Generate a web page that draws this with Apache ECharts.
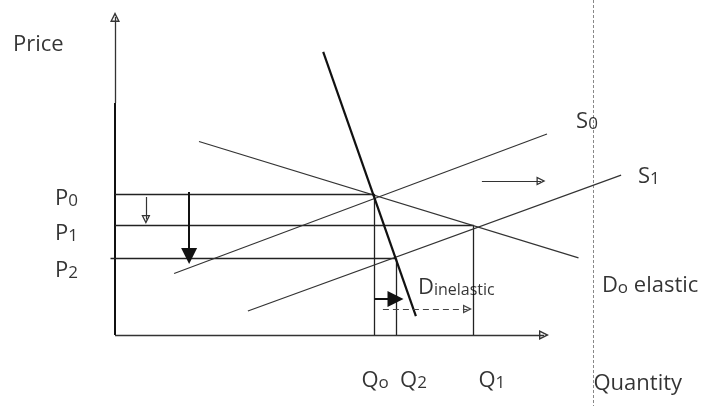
<!DOCTYPE html>
<html>
<head>
<meta charset="utf-8">
<script src="https://cdn.jsdelivr.net/npm/echarts@6/dist/echarts.min.js"></script>
<style>
  html, body { margin: 0; padding: 0; background: #fff; }
  #chart { width: 704px; height: 406px; }
</style>
</head>
<body>
<div id="chart"></div>
<script>
// values in diagram units (quantity across, price up)
var priceNames = ['P0', 'P1', 'P2'];
var priceLevels = [4.7, 3.67, 2.55];
var qtyNames = ['Qo', 'Q2', 'Q1'];
var qtyLevels = [8.65, 9.37, 11.95];

// curve end points [quantity, price]
var demandElastic = [[2.8, 6.45], [15.45, 2.57]];
var demandInelastic = [[6.94, 9.44], [10.03, 0.63]];
var supply0 = [[1.97, 2.05], [14.4, 6.7]];
var supply1 = [[4.43, 0.8], [16.87, 5.33]];

// shift arrows [from, to]
var priceDrop = [[2.47, 4.77], [2.47, 2.63]];
var smallDrop = [[1.03, 4.6], [1.03, 3.85]];
var qtyShift = [[8.65, 1.2], [9.35, 1.2]];
var qtyShiftDashed = [[8.93, 0.87], [11.75, 0.87]];
var supplyShift = [[12.23, 5.13], [14.2, 5.13]];

// axes ends and the dotted divider
var xAxisEnd = 14.3;
var yAxisEnd = 10.6;
var yAxisSolidTop = 7.73;
var dividerX = 15.93;

// layout: 30px per unit, axes corner at (115, 335)
var PX = 30, OX = 115, OY = 335, W = 704, H = 406;
var FONT = 'Open Sans';

var chart = echarts.init(document.getElementById('chart'));

function seg(a, b) {
  return { coords: [a, b] };
}
function rich(main, sub, rest) {
  return '{b|' + main + '}{s|' + sub + '}' + (rest ? '{b|' + rest + '}' : '');
}

var P = {}, Q = {};
priceNames.forEach(function (n, i) { P[n] = priceLevels[i]; });
qtyNames.forEach(function (n, i) { Q[n] = qtyLevels[i]; });

var guides = [
  seg([0, P.P0], [Q.Qo, P.P0]),
  seg([0, P.P1], [Q.Q1, P.P1]),
  seg([-0.15, P.P2], [Q.Q2, P.P2]),
  seg([Q.Qo, 0], [Q.Qo, P.P0]),
  seg([Q.Q2, 0], [Q.Q2, P.P2]),
  seg([Q.Q1, 0], [Q.Q1, P.P1])
];

var openHead = 'path://M5,0 L10,10 L0,10 Z M5,3.2 L2.2,8.6 L7.8,8.6 Z';

var richStyles = {
  b: { fontSize: 22, fontFamily: FONT, color: '#000', verticalAlign: 'bottom' },
  s: { fontSize: 17, fontFamily: FONT, color: '#000', verticalAlign: 'bottom' },
  m: { fontSize: 16, fontFamily: FONT, color: '#000', verticalAlign: 'bottom' }
};

var labels = [];
labels.push({ value: [-3.4, 9.67], text: '{b|Price}', off: [0, 0] });
var pOff = [5, 9, 12];
priceNames.forEach(function (n, i) {
  labels.push({ value: [-2.0, priceLevels[i]], text: rich(n.charAt(0), n.slice(1)), off: [0, pOff[i]] });
});
var qOff = [-13, 4, 5];
qtyNames.forEach(function (n, i) {
  labels.push({ value: [qtyLevels[i], -1.53], text: rich(n.charAt(0), n.slice(1)), off: [qOff[i], 0] });
});
labels.push({ value: [15.37, 7.1], text: rich('S', '0'), off: [0, 0] });
labels.push({ value: [17.43, 5.27], text: rich('S', '1'), off: [0, 0] });
labels.push({ value: [16.23, 1.63], text: rich('D', 'o', ' elastic'), off: [0, 0] });
labels.push({ value: [10.1, 1.57], text: '{b|D}{m|inelastic}', off: [0, 0] });
labels.push({ value: [15.95, -1.63], text: '{b|Quantity}', off: [0, 0] });

var option = {
  animation: false,
  backgroundColor: '#fff',
  grid: { left: 0, right: 0, top: 0, bottom: 0 },
  xAxis: { type: 'value', min: -OX / PX, max: (W - OX) / PX, show: false },
  yAxis: { type: 'value', min: -(H - OY) / PX, max: OY / PX, show: false },
  series: [
    {
      name: 'divider', type: 'lines', coordinateSystem: 'cartesian2d',
      symbol: 'none',
      lineStyle: { color: '#888', width: 1, type: [3, 2], opacity: 1 },
      data: [seg([dividerX, OY / PX], [dividerX, -(H - OY) / PX])]
    },
    {
      name: 'axes', type: 'lines', coordinateSystem: 'cartesian2d',
      symbol: 'none',
      lineStyle: { color: '#111', width: 2, opacity: 1 },
      data: [seg([0, 0], [0, yAxisSolidTop])]
    },
    {
      name: 'axis arrows', type: 'lines', coordinateSystem: 'cartesian2d',
      symbol: ['none', openHead], symbolSize: 10,
      lineStyle: { color: '#333', width: 1.3, opacity: 1 },
      data: [seg([0, 0], [xAxisEnd, 0]), seg([0, yAxisSolidTop], [0, yAxisEnd])]
    },
    {
      name: 'guides', type: 'lines', coordinateSystem: 'cartesian2d',
      symbol: 'none',
      lineStyle: { color: '#222', width: 1.3, opacity: 1 },
      data: guides
    },
    {
      name: 'curves', type: 'lines', coordinateSystem: 'cartesian2d',
      symbol: 'none',
      lineStyle: { color: '#333', width: 1.2, opacity: 1 },
      data: [seg(demandElastic[0], demandElastic[1]), seg(supply0[0], supply0[1]), seg(supply1[0], supply1[1])]
    },
    {
      name: 'inelastic', type: 'lines', coordinateSystem: 'cartesian2d',
      symbol: 'none',
      lineStyle: { color: '#111', width: 2.2, opacity: 1 },
      data: [seg(demandInelastic[0], demandInelastic[1])]
    },
    {
      name: 'shift arrows', type: 'lines', coordinateSystem: 'cartesian2d',
      symbol: ['none', 'triangle'], symbolSize: 16,
      lineStyle: { color: '#111', width: 2, opacity: 1 },
      data: [seg(priceDrop[0], priceDrop[1]), seg(qtyShift[0], qtyShift[1])]
    },
    {
      name: 'open arrows', type: 'lines', coordinateSystem: 'cartesian2d',
      symbol: ['none', openHead], symbolSize: 9,
      lineStyle: { color: '#333', width: 1.2, opacity: 1 },
      data: [seg(supplyShift[0], supplyShift[1]), seg(smallDrop[0], smallDrop[1])]
    },
    {
      name: 'dashed arrow', type: 'lines', coordinateSystem: 'cartesian2d',
      symbol: ['none', openHead], symbolSize: 9,
      lineStyle: { color: '#444', width: 1.2, type: [6, 4], opacity: 1 },
      data: [seg(qtyShiftDashed[0], qtyShiftDashed[1])]
    },
    {
      name: 'labels', type: 'scatter', symbolSize: 1,
      itemStyle: { color: 'rgba(0,0,0,0)' },
      data: labels.map(function (l) {
        return {
          value: l.value,
          label: {
            show: true, position: 'inside', align: 'left', verticalAlign: 'middle',
            offset: l.off, formatter: l.text, rich: richStyles
          }
        };
      })
    }
  ]
};

chart.setOption(option);
</script>
</body>
</html>
